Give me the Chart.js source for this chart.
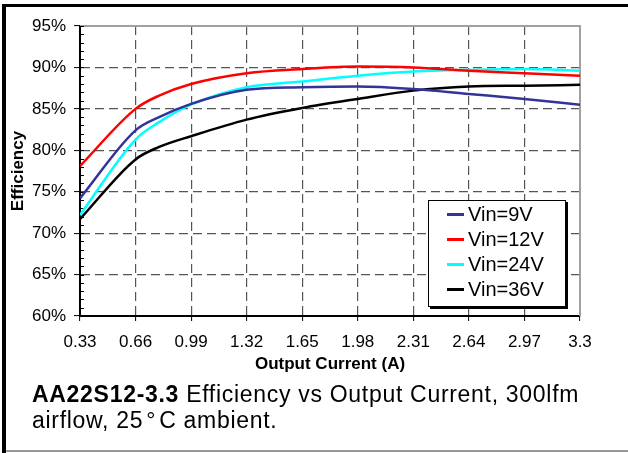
<!DOCTYPE html>
<html>
<head>
<meta charset="utf-8">
<script src="https://cdn.jsdelivr.net/npm/chart.js@4.4.0/dist/chart.umd.min.js"></script>
<style>
  body { margin: 0; background: #fff; font-family: "Liberation Sans", Arial, sans-serif; }
  #wrap { position: relative; width: 628px; height: 453px; overflow: hidden; }
  #c { position: absolute; left: 0; top: 0; }
  .frame { position: absolute; }
  #legend {
    position: absolute; left: 428px; top: 200px; width: 136px; height: 104px;
    border: 1px solid #000; box-shadow: 2px 2px 0 #000; background: #fff;
    padding-top: 1px; box-sizing: content-box;
  }
  .row { height: 25px; line-height: 25px; font-size: 20px; position: relative; white-space: nowrap; }
  .row i { position: absolute; left: 18px; top: 11px; width: 17px; height: 3px; }
  .row span { position: absolute; left: 39px; }
  #caption {
    position: absolute; left: 32px; top: 382px; font-size: 23px; line-height: 25.6px;
    letter-spacing: 0.7px; color: #000;
  }
  #caption b { font-weight: bold; }
</style>
</head>
<body>
<div id="wrap">
  <canvas id="c" width="628" height="453"></canvas>
  <div class="frame" style="left:3px;top:4px;width:625px;height:3px;background:#000"></div>
  <div class="frame" style="left:2px;top:4px;width:4px;height:449px;background:#000"></div>
  <div class="frame" style="left:6px;top:450px;width:622px;height:2px;background:#999"></div>
  <div id="legend"></div>
  <div id="caption"><b>AA22S12-3.3</b> Efficiency vs Output Current, 300lfm<br>airflow, 25<span style="margin:0 3px">°</span>C ambient.</div>
</div>
<script>
// Output current (A) sample points
const current = [0.33, 0.66, 0.8, 0.99, 1.32, 1.65, 1.98, 2.31, 2.64, 2.97, 3.3];
// efficiency (%) per input voltage
const vin9  = [74.2, 82.4, 84.0, 85.6, 87.3, 87.6, 87.7, 87.4, 86.8, 86.2, 85.5];
const vin12 = [78.1, 85.0, 86.6, 88.0, 89.3, 89.8, 90.1, 90.0, 89.6, 89.3, 89.0];
const vin24 = [72.2, 81.3, 83.4, 85.5, 87.6, 88.3, 89.0, 89.5, 89.7, 89.8, 89.6];
const vin36 = [71.7, 78.9, 80.4, 81.7, 83.7, 85.1, 86.2, 87.2, 87.7, 87.8, 87.9];

const seriesLabels = ['Vin=9V', 'Vin=12V', 'Vin=24V', 'Vin=36V'];
const seriesColors = ['#333399', '#ff0000', '#00ffff', '#000000'];

const xTicks = [0.33, 0.66, 0.99, 1.32, 1.65, 1.98, 2.31, 2.64, 2.97, 3.3];
const yMin = 60, yMax = 95, yStep = 5;

const toPoints = vals => vals.map((v, i) => ({ x: current[i], y: v }));

// gray top/right frame and small inward ticks on the y axis
const plotFrame = {
  id: 'plotFrame',
  beforeDatasetsDraw(chart) {
    const { ctx, chartArea: a, scales: { y } } = chart;
    ctx.save();
    ctx.strokeStyle = '#a0a0a0';
    ctx.lineWidth = 2;
    ctx.beginPath();
    ctx.moveTo(a.left, a.top);
    ctx.lineTo(a.right, a.top);
    ctx.lineTo(a.right, a.bottom);
    ctx.stroke();
    ctx.strokeStyle = '#000';
    ctx.lineWidth = 1;
    ctx.beginPath();
    for (let v = yMin; v <= yMax; v++) {
      const py = Math.round(y.getPixelForValue(v)) + 0.5;
      ctx.moveTo(a.left, py);
      ctx.lineTo(a.left + 4, py);
    }
    ctx.stroke();
    ctx.restore();
  }
};

Chart.defaults.color = '#000';
Chart.defaults.font.family = '"Liberation Sans", Arial, sans-serif';

const chart = new Chart(document.getElementById('c'), {
  type: 'line',
  data: {
    datasets: [vin9, vin12, vin24, vin36].map((vals, i) => ({
      label: seriesLabels[i],
      data: toPoints(vals),
      borderColor: seriesColors[i],
      backgroundColor: seriesColors[i],
      borderWidth: 2.5,
      pointRadius: 0,
      cubicInterpolationMode: 'monotone',
      fill: false
    }))
  },
  options: {
    responsive: false,
    animation: false,
    devicePixelRatio: 1,
    layout: { padding: { left: 0, right: 48, top: 26, bottom: 0 } },
    plugins: { legend: { display: false }, tooltip: { enabled: false } },
    scales: {
      x: {
        type: 'linear',
        min: 0.33,
        max: 3.3,
        afterBuildTicks: s => { s.ticks = xTicks.map(v => ({ value: v })); },
        afterFit: s => { s.height = 137; },
        ticks: { font: { size: 17 }, padding: 11, maxRotation: 0, autoSkip: false, callback: v => String(v) },
        grid: {
          color: c => (c.index === 0 || c.index === xTicks.length - 1) ? 'transparent' : '#555',
          lineWidth: 1.2,
          tickLength: 5,
          tickColor: '#000',
          tickWidth: 1,
          tickBorderDash: []
        },
        border: { display: true, color: '#000', width: 2, dash: [9, 5] },
        title: { display: true, text: 'Output Current (A)', font: { size: 17, weight: 'bold' }, padding: { top: 0, bottom: 78 } }
      },
      y: {
        min: yMin,
        max: yMax,
        afterFit: s => { s.width = 80; },
        ticks: { stepSize: yStep, font: { size: 17 }, padding: 8, callback: v => v + '%' },
        grid: {
          color: c => (c.index === 0 || c.tick.value === yMax) ? 'transparent' : '#555',
          lineWidth: 1.2,
          tickLength: 6,
          tickColor: '#000',
          tickWidth: 1,
          tickBorderDash: []
        },
        border: { display: true, color: '#000', width: 2, dash: [9, 5] },
        title: { display: true, text: 'Efficiency', font: { size: 17, weight: 'bold' }, padding: { top: 8, bottom: 0 } }
      }
    }
  },
  plugins: [plotFrame]
});

// legend built from the datasets
const legend = document.getElementById('legend');
chart.data.datasets.forEach(ds => {
  const row = document.createElement('div');
  row.className = 'row';
  row.innerHTML = '<i style="background:' + ds.borderColor + '"></i><span>' + ds.label + '</span>';
  legend.appendChild(row);
});
</script>
</body>
</html>
